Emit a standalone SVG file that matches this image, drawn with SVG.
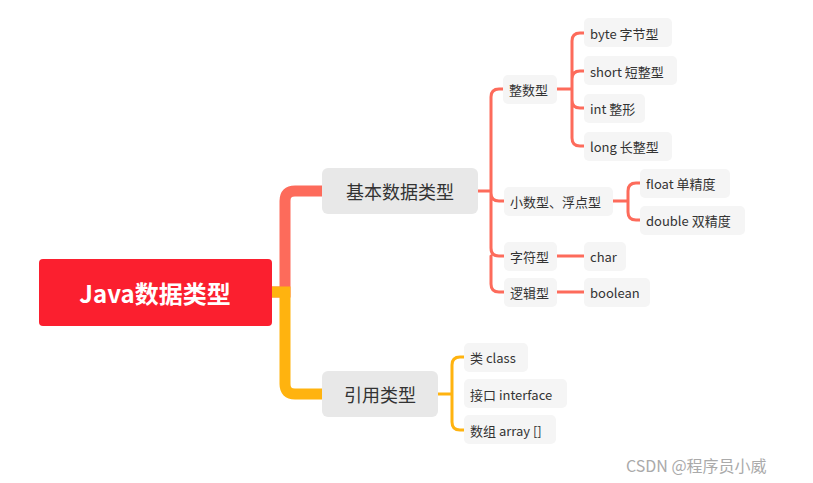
<svg xmlns="http://www.w3.org/2000/svg" width="813" height="483" viewBox="0 0 813 483">
<style>
text{font-family:"Noto Sans CJK SC","Noto Sans",sans-serif;fill:#333;dominant-baseline:central}
.l{fill:#f5f5f5}
.s{font-size:13px}
.b{font-size:18px;text-anchor:middle}
.r{fill:none;stroke:#fd6b5b;stroke-width:3;stroke-linecap:round}
.o{fill:none;stroke:#ffb30f;stroke-width:3;stroke-linecap:round}
</style>
<rect width="813" height="483" fill="#fff"/>
<g id="connectors">
<path d="M272 292 H285 V201 Q285 191 295 191 H322" fill="none" stroke="#fd6b5b" stroke-width="11"/>
<path d="M272 292 H285 V384 Q285 394 295 394 H322" fill="none" stroke="#ffb30f" stroke-width="11"/>
<path class="r" d="M478 191 H491 M491 191 V97 Q491 89 499 89 H503 M491 191 V193 Q491 201 499 201 H504 M491 191 V248 Q491 256 499 256 H504 M491 256 V284 Q491 292 499 292 H504"/>
<path class="r" d="M557 89 H572 M572 89 V41 Q572 33 580 33 H584 M572 79 Q572 71 580 71 H584 M572 89 V100 Q572 108 580 108 H584 M572 100 V138 Q572 146 580 146 H584"/>
<path class="r" d="M613 201 H628 M628 201 V191 Q628 183 636 183 H640 M628 201 V212 Q628 220 636 220 H640"/>
<path class="r" d="M557 256 H584 M557 292 H584"/>
<path class="o" d="M438 394 H452 M452 394 V365 Q452 357 460 357 H464 M452 394 V422 Q452 430 460 430 H464"/>
</g>
<g id="root"><rect x="39" y="259" width="233" height="67" rx="4" fill="#fb1f2f"/><text x="155" y="292" font-size="24" font-weight="bold" text-anchor="middle" style="fill:#fff">Java数据类型</text></g>
<g id="basic"><rect x="322" y="168" width="156" height="46" rx="6" fill="#e8e8e8"/><text class="b" x="400" y="191">基本数据类型</text></g>
<g id="ref"><rect x="322" y="371" width="116" height="46" rx="6" fill="#e8e8e8"/><text class="b" x="380" y="394">引用类型</text></g>
<g id="int"><rect class="l" x="503" y="75" width="54" height="29" rx="5"/><text class="s" x="509" y="89">整数型</text></g>
<g id="float"><rect class="l" x="504" y="187" width="109" height="29" rx="5"/><text class="s" x="510" y="201">小数型、浮点型</text></g>
<g id="char"><rect class="l" x="504" y="242" width="53" height="29" rx="5"/><text class="s" x="510" y="256">字符型</text></g>
<g id="bool"><rect class="l" x="504" y="278" width="53" height="29" rx="5"/><text class="s" x="510" y="292">逻辑型</text></g>
<g id="byte"><rect class="l" x="584" y="18" width="88" height="29" rx="5"/><text class="s" x="590" y="33">byte 字节型</text></g>
<g id="short"><rect class="l" x="584" y="56" width="93" height="29" rx="5"/><text class="s" x="590" y="71">short 短整型</text></g>
<g id="intl"><rect class="l" x="584" y="94" width="61" height="29" rx="5"/><text class="s" x="590" y="108">int 整形</text></g>
<g id="long"><rect class="l" x="584" y="132" width="88" height="29" rx="5"/><text class="s" x="590" y="146">long 长整型</text></g>
<g id="fl"><rect class="l" x="640" y="169" width="90" height="29" rx="5"/><text class="s" x="646" y="183">float 单精度</text></g>
<g id="db"><rect class="l" x="640" y="206" width="105" height="29" rx="5"/><text class="s" x="646" y="220">double 双精度</text></g>
<g id="charl"><rect class="l" x="584" y="242" width="42" height="29" rx="5"/><text class="s" x="590" y="256">char</text></g>
<g id="booll"><rect class="l" x="584" y="278" width="66" height="29" rx="5"/><text class="s" x="590" y="292">boolean</text></g>
<g id="cls"><rect class="l" x="464" y="343" width="64" height="29" rx="5"/><text class="s" x="470" y="357">类 class</text></g>
<g id="itf"><rect class="l" x="464" y="379" width="103" height="29" rx="5"/><text class="s" x="470" y="394">接口 interface</text></g>
<g id="arr"><rect class="l" x="464" y="415" width="92" height="29" rx="5"/><text class="s" x="470" y="430">数组 array []</text></g>
<text x="626" y="465" font-size="16" style="fill:#aaa">CSDN @程序员小威</text>
</svg>
